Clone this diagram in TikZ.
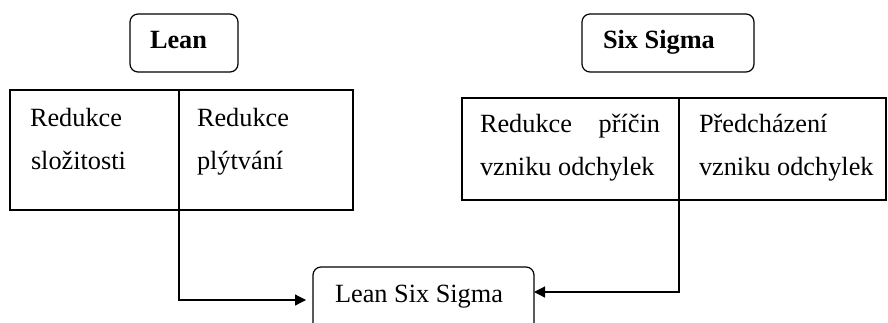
\documentclass[tikz,border=0pt]{standalone}
\usepackage{fontspec}
\setmainfont{Liberation Serif}
\usetikzlibrary{arrows.meta}
\begin{document}
\begin{tikzpicture}[x=1pt,y=-1pt,
  line width=1.2pt,
  every node/.style={inner sep=0pt,outer sep=0pt},
  roundbox/.style={draw,rounded corners=8pt},
  cellbox/.style={draw},
  lbl/.style={anchor=base west,font=\fontsize{26.3}{31}\selectfont},
  headlbl/.style={lbl,font=\fontsize{26.3}{31}\selectfont\bfseries},
  link/.style={-{Triangle[length=11pt,width=11pt]}}]
  \useasboundingbox (0,0) rectangle (888,322);
  \clip (0,0) rectangle (888,322);

  % headings
  \node[roundbox,minimum width=108pt,minimum height=58pt] (lean) at (184,43) {};
  \node[headlbl] (leantxt) at (150,48) {Lean};
  \node[roundbox,minimum width=172pt,minimum height=58pt] (six) at (668,43) {};
  \node[headlbl] (sixtxt) at (603,48) {Six Sigma};

  % Lean table
  \node[cellbox,minimum width=169pt,minimum height=120pt] (lcellA) at (94.5,150) {};
  \node[cellbox,minimum width=174pt,minimum height=120pt] (lcellB) at (266,150) {};
  \node[lbl] (la1) at (30,126) {Redukce};
  \node[lbl] (la2) at (31,169) {složitosti};
  \node[lbl] (lb1) at (197,126) {Redukce};
  \node[lbl] (lb2) at (197,169) {plýtvání};

  % Six Sigma table
  \node[cellbox,minimum width=217pt,minimum height=102pt] (rcellA) at (570.5,149) {};
  \node[cellbox,minimum width=207pt,minimum height=102pt] (rcellB) at (782.5,149) {};
  \node[lbl] (ra1) at (480,132) {\hbox to 180pt{Redukce\hfill příčin}};
  \node[lbl] (ra2) at (480,175) {vzniku odchylek};
  \node[lbl] (rb1) at (699,132) {Předcházení};
  \node[lbl] (rb2) at (699,175) {vzniku odchylek};

  % result
  \node[roundbox,minimum width=221pt,minimum height=80pt] (lss) at (423.5,307) {};
  \node[lbl] (lsstxt) at (335,302) {Lean Six Sigma};

  % connectors
  \coordinate (lrow) at (0,300);
  \coordinate (rrow) at (0,292);
  \draw[link,shorten >=7pt] (lcellA.south east) |- (lss.west |- lrow);
  \draw[link] (rcellA.south east) |- (lss.east |- rrow);
\end{tikzpicture}
\end{document}
